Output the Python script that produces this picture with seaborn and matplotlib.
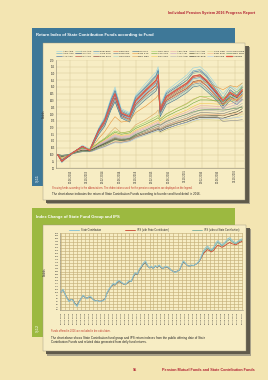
import pandas as pd
import matplotlib.pyplot as plt
import seaborn as sns
from matplotlib.patches import Rectangle

# ---------------- chart 1: return index of state contribution funds ----------------
dates1 = ["27.03.2013", "27.04.2013", "27.06.2013", "12.08.2013", "27.09.2013", "20.11.2013",
          "12.12.2013", "27.01.2014", "12.03.2014", "27.04.2014", "27.05.2014", "12.07.2014",
          "12.09.2014", "27.10.2014", "12.01.2015", "27.03.2015", "12.04.2015", "27.04.2015",
          "12.06.2015", "27.08.2015", "12.11.2015", "27.12.2015", "17.02.2016", "05.04.2016",
          "20.06.2016", "05.08.2016", "27.09.2016", "17.11.2016", "27.12.2016"]

# equity heavy funds (volatile group)
aek_abe = [100, 95, 101, 103, 107, 104, 109, 120, 128, 142, 150, 134, 131, 144, 153, 161, 165, 137, 147, 153, 159, 164, 165, 161, 151, 145, 151, 148, 153]
age_agk = [100, 94, 100, 103, 106, 103, 109, 119, 127, 141, 148, 133, 130, 143, 151, 159, 163, 135, 146, 151, 157, 162, 163, 159, 149, 142, 150, 146, 151]
alz_azs = [100, 95, 100, 103, 106, 103, 108, 119, 126, 140, 147, 132, 129, 142, 150, 158, 162, 134, 145, 150, 155, 161, 162, 158, 147, 137, 148, 144, 150]
ans_aks = [100, 96, 100, 103, 106, 104, 108, 119, 126, 139, 146, 132, 129, 141, 149, 157, 161, 134, 144, 149, 155, 160, 161, 157, 147, 141, 147, 144, 149]
avv_avk = [100, 95, 99, 103, 106, 102, 108, 118, 125, 138, 145, 130, 128, 140, 148, 155, 159, 132, 143, 148, 153, 158, 159, 154, 145, 136, 145, 142, 147]
axa_axs = [100, 95, 100, 103, 106, 103, 108, 118, 125, 137, 144, 130, 127, 139, 147, 154, 158, 132, 142, 147, 152, 157, 158, 154, 145, 139, 145, 142, 147]
bnp_bnk = [100, 95, 100, 103, 106, 103, 108, 117, 124, 137, 143, 130, 127, 138, 146, 153, 157, 132, 141, 146, 151, 156, 157, 153, 144, 138, 144, 141, 146]
chb_chk = [100, 96, 100, 103, 106, 103, 108, 117, 124, 136, 143, 129, 127, 138, 146, 152, 157, 131, 141, 146, 150, 156, 156, 152, 144, 138, 144, 141, 146]
emk_ems = [100, 95, 100, 103, 106, 103, 107, 117, 123, 135, 142, 129, 126, 137, 145, 151, 155, 131, 140, 145, 149, 154, 155, 151, 143, 137, 143, 140, 145]
fbr_fbk = [100, 95, 100, 103, 105, 103, 107, 117, 123, 135, 141, 128, 126, 137, 144, 151, 154, 130, 140, 144, 149, 153, 154, 151, 142, 137, 142, 140, 144]
fnb_fnk = [100, 96, 100, 103, 105, 103, 107, 116, 122, 134, 140, 128, 125, 136, 143, 149, 153, 130, 139, 143, 148, 152, 153, 149, 141, 136, 141, 139, 143]
grn_grk = [100, 96, 100, 103, 105, 103, 107, 116, 122, 133, 140, 127, 125, 135, 142, 148, 152, 129, 138, 142, 147, 151, 152, 148, 140, 135, 140, 138, 142]
hlk_hls = [100, 96, 100, 103, 105, 103, 107, 115, 121, 133, 139, 127, 124, 134, 141, 147, 151, 128, 137, 141, 146, 150, 151, 147, 140, 134, 140, 137, 141]
# balanced funds
ktm_ktk = [100, 97, 100, 102, 104, 103, 106, 112, 117, 124, 128, 124, 125, 131, 136, 142, 144, 136, 141, 146, 150, 153, 155, 153, 150, 148, 151, 150, 153]
met_mek = [100, 98, 100, 102, 104, 103, 105, 109, 112, 117, 120, 116, 117, 122, 126, 131, 133, 126, 130, 134, 138, 141, 143, 142, 139, 138, 141, 141, 144]
# fixed income heavy funds (smooth group)
nnh_nnk = [100, 98, 100, 102.5, 104.5, 104, 105.5, 109, 112, 115.5, 117.5, 116, 117, 120.5, 124, 128, 129, 126.5, 130, 134, 137.5, 140.5, 143, 143, 142.5, 142, 144.5, 146.5, 150]
vkf_vks = [100, 98.1, 100, 102.4, 104.2, 103.8, 105.2, 108.5, 111.3, 114.6, 116.5, 115, 116, 119.3, 122.6, 126.3, 127.3, 124.9, 128.2, 132, 135.3, 138.1, 140.4, 140.4, 140, 139.5, 141.8, 143.7, 147]
zrt_zrk = [100, 98.2, 100, 102.2, 104, 103.5, 104.8, 107.9, 110.6, 113.6, 115.4, 114.1, 115, 118, 121.1, 124.6, 125.5, 123.3, 126.4, 129.9, 133, 135.6, 137.8, 137.8, 137.4, 137, 139.2, 140.9, 144]
aek_aeb = [100, 98.3, 100, 102.1, 103.8, 103.4, 104.6, 107.6, 110.1, 113, 114.7, 113.4, 114.3, 117.2, 120.2, 123.5, 124.4, 122.3, 125.2, 128.6, 131.5, 134, 136.1, 136.1, 135.7, 135.3, 137.4, 139.1, 142]
alz_alb = [100, 98.4, 100, 102, 103.6, 103.2, 104.4, 107.2, 109.6, 112.4, 114, 112.8, 113.6, 116.4, 119.2, 122.4, 123.2, 121.2, 124, 127.2, 130, 132.4, 134.4, 134.4, 134, 133.6, 135.6, 137.2, 140]
ans_agb = [100, 98.5, 100, 101.9, 103.4, 103, 104.2, 106.8, 109.1, 111.8, 113.3, 112.2, 112.9, 115.6, 118.2, 121.3, 122, 120.1, 122.8, 125.8, 128.5, 130.8, 132.7, 132.7, 132.3, 131.9, 133.8, 135.3, 138]
avv_avb = [100, 98.6, 100, 101.8, 103.2, 102.9, 104, 106.5, 108.6, 111.2, 112.6, 111.5, 112.2, 114.8, 117.3, 120.2, 120.9, 119.1, 121.6, 124.5, 127, 129.2, 131, 131, 130.6, 130.2, 132, 133.5, 136]
axa_axb = [100, 98.6, 100, 101.7, 103.1, 102.7, 103.7, 106.1, 108.2, 110.5, 111.9, 110.9, 111.6, 113.9, 116.3, 119, 119.7, 118, 120.4, 123.1, 125.5, 127.5, 129.2, 129.2, 128.9, 128.6, 130.3, 131.6, 134]
bnp_bpb = [100, 98.7, 100, 101.6, 102.9, 102.6, 103.5, 105.8, 107.7, 109.9, 111.2, 110.2, 110.9, 113.1, 115.4, 117.9, 118.6, 117, 119.2, 121.8, 124, 125.9, 127.5, 127.5, 127.2, 126.9, 128.5, 129.8, 132]
chb_cbb = [100, 98.8, 100, 101.5, 102.7, 102.4, 103.3, 105.4, 107.2, 109.3, 110.5, 109.6, 110.2, 112.3, 114.4, 116.8, 117.4, 115.9, 118, 120.4, 122.5, 124.3, 125.8, 125.8, 125.5, 125.2, 126.7, 127.9, 130]
emk_ekb = [100, 99.4, 100, 101.2, 102.2, 102.2, 102.8, 104.7, 106.2, 108.4, 109.6, 109.3, 110.5, 113, 116.1, 119.2, 119.8, 119.2, 121.7, 124.2, 126.4, 127.9, 129.1, 129.5, 129.5, 129.1, 129.8, 130.4, 131]
fbr_fbb = [100, 99.4, 100, 101.1, 102, 102, 102.5, 104.2, 105.6, 107.6, 108.7, 108.4, 109.5, 111.8, 114.6, 117.4, 117.9, 117.4, 119.6, 121.8, 123.8, 125.2, 126.3, 126.6, 126.6, 126.3, 126.9, 127.4, 128]
grn_grb = [100, 99.4, 100, 101.2, 102.1, 102.1, 102.7, 104.5, 106, 108.1, 109.3, 109, 110.2, 112.6, 115.6, 118.6, 119.2, 118.6, 121, 123.4, 125.5, 127, 128.2, 128.5, 128.3, 124.5, 125, 125.3, 125.8]
met_mtb = [100, 99.3, 100, 101.4, 102.5, 102.5, 103.2, 105.3, 107, 109.5, 110.9, 110.5, 111.9, 114.7, 118.2, 121.7, 122.4, 121.7, 124.5, 127.3, 129.8, 131.5, 132.9, 133.3, 133.3, 132.9, 133.6, 134.3, 135]
average = [100, 95, 100, 103, 106, 103, 108, 118, 125, 138, 145, 131, 128, 140, 148, 155, 159, 133, 143, 148, 153, 158, 159, 155, 146, 140, 146, 143, 148]

fund_names = ["AEK ABE", "AGE AGK", "ALZ AZS", "ANS AKS", "AVV AVK", "AXA AXS", "BNP BNK", "CHB CHK",
              "EMK EMS", "FBR FBK", "FNB FNK", "GRN GRK", "HLK HLS", "KTM KTK", "MET MEK", "NNH NNK",
              "VKF VKS", "ZRT ZRK", "AEK AEB", "ALZ ALB", "ANS AGB", "AVV AVB", "AXA AXB", "BNP BPB",
              "CHB CBB", "EMK EKB", "FBR FBB", "GRN GRB", "MET MTB", "Average"]
fund_values = [aek_abe, age_agk, alz_azs, ans_aks, avv_avk, axa_axs, bnp_bnk, chb_chk, emk_ems, fbr_fbk,
               fnb_fnk, grn_grk, hlk_hls, ktm_ktk, met_mek, nnh_nnk, vkf_vks, zrt_zrk, aek_aeb, alz_alb,
               ans_agb, avv_avb, axa_axb, bnp_bpb, chb_cbb, emk_ekb, fbr_fbb, grn_grb, met_mtb, average]
xticks1 = ["30.06.2013", "31.10.2013", "28.02.2014", "30.06.2014", "31.10.2014", "28.02.2015",
           "30.06.2015", "31.10.2015", "29.02.2016", "30.06.2016", "31.10.2016"]

# ---------------- chart 2: state contribution group vs IPS (semi-monthly) ----------------
state_contribution = [100, 105, 97, 90, 84, 88, 86, 80, 76, 83, 90, 95, 91, 89, 93, 92, 87, 85, 86, 84,
                      85, 86, 88, 99, 106, 110, 115, 113, 118, 120, 117, 115, 113, 116, 120, 118, 128, 133, 131, 139,
                      144, 149, 153, 146, 141, 144, 140, 145, 143, 146, 142, 140, 144, 143, 141, 137, 135, 133, 136, 137,
                      146, 153, 149, 145, 144, 146, 145, 147, 150, 154, 162, 170, 175, 178, 174, 172, 176, 182, 187, 184,
                      180, 182, 186, 190, 192, 188, 185, 183, 186, 188, 190]
ips_without = [100, 104, 97, 91, 85, 88, 87, 81, 78, 84, 90, 94, 91, 90, 92, 91, 88, 86, 86, 85,
               85, 87, 89, 98, 105, 109, 113, 112, 116, 118, 116, 114, 113, 115, 118, 118, 126, 131, 130, 137,
               142, 147, 150, 145, 141, 143, 140, 144, 142, 145, 141, 140, 143, 142, 140, 137, 135, 134, 136, 137,
               145, 151, 148, 145, 144, 145, 145, 147, 149, 153, 160, 167, 172, 175, 172, 170, 174, 179, 184, 182,
               178, 180, 184, 187, 189, 186, 183, 182, 184, 186, 188]
ips_with = ips_without[:70] + [159, 165, 169, 172, 170, 168, 171, 175, 179, 178,
                               176, 177, 180, 182, 184, 182, 181, 180, 182, 184, 186]
dates2 = pd.date_range("2013-04-01", periods=len(state_contribution), freq="SMS")
xticks2 = pd.date_range("2013-04-01", "2017-01-01", freq="MS")

# ---------------- page styling ----------------
W, H = 268, 380
PAGE, PANEL = "#F3E5B2", "#F7EDC4"
BLUE, GREEN, RED = "#3E7898", "#9CB940", "#B22234"
colors1 = ["#92D2E2", "#5BA7C9", "#2E5E9E", "#7FB8A8", "#1F3F7A", "#B03A2E", "#4C8FB8", "#A5CDE4",
           "#7A2E2E", "#E0704A", "#5E7F9A", "#A3D3C7", "#3A6E8F", "#E8953A", "#D9A45C", "#9ACD5A",
           "#6BAA3A", "#F0C850", "#E7A8A8", "#C8A2C8", "#B0B0B0", "#7F7F7F", "#4A4A2A", "#2B2B2B",
           "#D6D08A", "#F4B183", "#A9C4EB", "#8C8C8C", "#5B8C5A", "#E05A48"]

sns.set_style("whitegrid")
plt.rcParams["font.family"] = ["Liberation Sans", "DejaVu Sans"]

fig = plt.figure(figsize=(2.68, 3.8), dpi=100)
fig.patch.set_facecolor(PAGE)


def rect(x0, y0, x1, y1, color, z, **kw):
    fig.add_artist(Rectangle((x0 / W, 1 - y1 / H), (x1 - x0) / W, (y1 - y0) / H,
                             transform=fig.transFigure, facecolor=color, zorder=z, **kw))


def text(x, y, s, **kw):
    kw.setdefault("va", "center")
    fig.text(x / W, 1 - y / H, s, **kw)


# banners, shadows and panels
rect(32, 28, 235, 186, BLUE, -5, lw=0)
rect(47, 47, 250, 204.5, "#A8A189", -4, lw=0)
rect(46, 46, 248.5, 203, "#5F5A4B", -3, lw=0)
rect(43, 43, 245, 200, PANEL, -2, edgecolor="#9C967F", lw=0.3)

rect(32, 208, 235, 337, GREEN, -5, lw=0)
rect(47, 229, 251, 355.5, "#A8A189", -4, lw=0)
rect(46, 228, 249.5, 354, "#5F5A4B", -3, lw=0)
rect(43, 225, 246, 351, PANEL, -2, edgecolor="#9C967F", lw=0.3)

text(255, 13, "Individual Pension System 2016 Progress Report", ha="right", color=RED,
     fontsize=2.7, fontweight="bold")
text(36, 35, "Return Index of State Contribution Funds according to Fund", color="white",
     fontsize=3.0, fontweight="bold")
text(36, 217, "Index Change of State Fund Group and IPS", color="white", fontsize=3.0, fontweight="bold")
text(37.5, 178, "Ş.11", color="white", fontsize=2.8, rotation=90, ha="center")
text(37.5, 328, "Ş.12", color="white", fontsize=2.8, rotation=90, ha="center")

# ---------------- chart 1 ----------------
ax1 = fig.add_axes([56 / W, 1 - 168 / H, 188 / W, 108 / H])
d1 = pd.to_datetime(dates1, format="%d.%m.%Y")
for name, vals, col in zip(fund_names, fund_values, colors1):
    lw = 0.9 if name == "Average" else 0.4
    sns.lineplot(x=d1, y=vals, color=col, linewidth=lw, label=name, ax=ax1)

ax1.set_facecolor(PANEL)
ax1.set_xlim(pd.Timestamp("2013-03-15"), pd.Timestamp("2017-01-08"))
ax1.set_ylim(90, 170)
ax1.set_yticks(range(90, 171, 5))
ax1.set_xticks(pd.to_datetime(xticks1, format="%d.%m.%Y"))
ax1.set_xticklabels(xticks1, rotation=90)
ax1.tick_params(axis="both", labelsize=1.9, length=0, pad=1, colors="#333333")
ax1.grid(color="#D9CB9A", linewidth=0.35)
ax1.set_ylabel("Endeks", fontsize=1.9, color="#333333")
ax1.yaxis.set_label_coords(-0.055, 0.5)
ax1.set_xlabel("")
for s in ["top", "right"]:
    ax1.spines[s].set_visible(False)
for s in ["left", "bottom"]:
    ax1.spines[s].set_color("#8A8470")
    ax1.spines[s].set_linewidth(0.4)
ax1.legend(ncol=10, loc="lower left", bbox_to_anchor=(0, 1.03, 1, 0.1), mode="expand",
           frameon=False, fontsize=1.7, handlelength=2.4, handletextpad=0.4, columnspacing=0.4,
           labelspacing=0.35, borderaxespad=0, borderpad=0)

text(52, 188, "Showing funds according to the abbreviations. The abbreviations used for the pension "
     "companies are displayed on the legend.", color="#C0392B", fontsize=1.8)
text(52, 193.5, "The chart above indicates the return of State Contribution Funds according to "
     "founder and fund detail in 2016.", color="#222222", fontsize=2.2)

# ---------------- chart 2 ----------------
ax2 = fig.add_axes([60 / W, 1 - 310 / H, 183 / W, 77 / H])
sns.lineplot(x=dates2, y=state_contribution, color="#8EC5D3", linewidth=0.7,
             label="State Contribution", ax=ax2)
sns.lineplot(x=dates2, y=ips_with, color="#C8442F", linewidth=0.6,
             label="IPS (with State Contribution)", ax=ax2)
sns.lineplot(x=dates2, y=ips_without, color="#5E9E93", linewidth=0.5,
             label="IPS (without State Contribution)", ax=ax2)
ax2.lines[0].set_zorder(3)

ax2.set_facecolor(PANEL)
ax2.set_xlim(dates2[0] - pd.Timedelta(days=8), dates2[-1] + pd.Timedelta(days=8))
ax2.set_ylim(70, 200)
ax2.set_yticks(range(70, 201, 5))
ax2.set_xticks(xticks2)
ax2.set_xticklabels([d.strftime("%d.%m.%Y") for d in xticks2], rotation=90)
ax2.tick_params(axis="both", labelsize=1.7, length=0, pad=1, colors="#333333")
ax2.grid(color="#C4B07A", linewidth=0.45)
ax2.set_ylabel("Endeks", fontsize=1.9, color="#333333")
ax2.yaxis.set_label_coords(-0.07, 0.5)
ax2.set_xlabel("")
for s in ["top", "right"]:
    ax2.spines[s].set_visible(False)
for s in ["left", "bottom"]:
    ax2.spines[s].set_color("#8A8470")
    ax2.spines[s].set_linewidth(0.4)
ax2.legend(ncol=3, loc="lower left", bbox_to_anchor=(0.05, 1.01, 0.93, 0.05), mode="expand",
           frameon=False, fontsize=1.8, handlelength=4, handletextpad=0.8, borderaxespad=0, borderpad=0)

text(51, 331, "Funds offered in 2016 are excluded in the calculation.", color="#C0392B", fontsize=1.8)
text(51, 337.5, "The chart above shows State Contribution fund group and IPS return indexes from the "
     "public offering date of State", color="#222222", fontsize=2.2)
text(51, 342.5, "Contribution Funds and related data generated from daily fund returns.",
     color="#222222", fontsize=2.2)

# footer
text(133, 370, "95", color=RED, fontsize=2.7, fontweight="bold")
text(255, 370, "Pension Mutual Funds and State Contribution Funds", ha="right", color=RED,
     fontsize=2.7, fontweight="bold")

fig.savefig("out.png", dpi=100, facecolor=PAGE)
